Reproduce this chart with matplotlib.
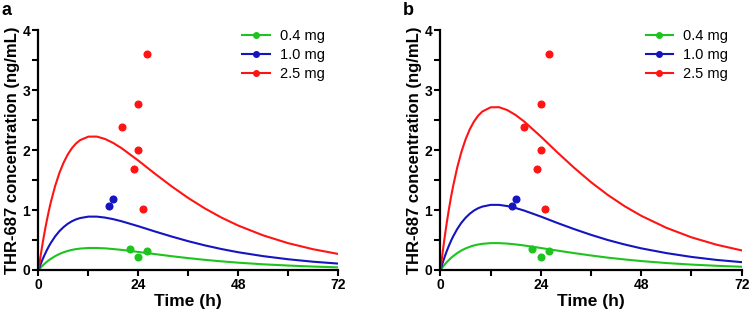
import matplotlib
matplotlib.use("Agg")
import matplotlib.pyplot as plt
from matplotlib.ticker import MultipleLocator

plt.rcParams['font.family'] = ['Liberation Sans', 'DejaVu Sans']

# model curves
time_h = [0, 0.5, 1, 1.5, 2, 2.5, 3, 4, 5, 6, 7, 8, 9, 10, 12, 14, 16, 18, 20, 24,
          28, 32, 36, 40, 44, 48, 54, 60, 66, 72]

red_a = [0, 0.234, 0.449, 0.646, 0.826, 0.991, 1.141, 1.401, 1.614, 1.786, 1.923, 2.029,
         2.109, 2.166, 2.224, 2.225, 2.185, 2.117, 2.030, 1.824, 1.605, 1.395, 1.200,
         1.026, 0.873, 0.741, 0.577, 0.447, 0.346, 0.268]
blue_a = [0, 0.094, 0.180, 0.258, 0.330, 0.396, 0.456, 0.560, 0.646, 0.714, 0.769, 0.812,
          0.844, 0.866, 0.890, 0.890, 0.874, 0.847, 0.812, 0.730, 0.642, 0.558, 0.480,
          0.410, 0.349, 0.296, 0.231, 0.179, 0.138, 0.107]
green_a = [0, 0.039, 0.074, 0.107, 0.136, 0.164, 0.188, 0.231, 0.266, 0.295, 0.317, 0.335,
           0.348, 0.357, 0.367, 0.367, 0.361, 0.349, 0.335, 0.301, 0.265, 0.230, 0.198,
           0.169, 0.144, 0.122, 0.095, 0.074, 0.057, 0.044]

red_b = [0, 0.285, 0.548, 0.788, 1.008, 1.209, 1.392, 1.709, 1.969, 2.179, 2.346, 2.475,
         2.573, 2.643, 2.713, 2.715, 2.666, 2.583, 2.477, 2.225, 1.958, 1.702, 1.464,
         1.252, 1.065, 0.904, 0.704, 0.545, 0.422, 0.327]
blue_b = [0, 0.115, 0.220, 0.315, 0.403, 0.483, 0.556, 0.683, 0.788, 0.871, 0.938, 0.991,
          1.030, 1.057, 1.086, 1.086, 1.066, 1.033, 0.991, 0.891, 0.783, 0.681, 0.586,
          0.500, 0.426, 0.361, 0.282, 0.218, 0.168, 0.131]
green_b = [0, 0.048, 0.090, 0.131, 0.166, 0.200, 0.229, 0.282, 0.325, 0.360, 0.387, 0.409,
           0.425, 0.436, 0.448, 0.448, 0.440, 0.426, 0.409, 0.367, 0.323, 0.281, 0.242,
           0.206, 0.176, 0.149, 0.116, 0.090, 0.070, 0.054]

# observed points (same in both panels)
obs_t_green = [22.0, 24.0, 26.0]
obs_c_green = [0.35, 0.22, 0.31]
obs_t_blue = [17.0, 18.0]
obs_c_blue = [1.07, 1.19]
obs_t_red = [20.0, 24.0, 24.0, 23.0, 25.0, 26.0]
obs_c_red = [2.38, 2.76, 2.00, 1.69, 1.02, 3.60]

doses = ["0.4 mg", "1.0 mg", "2.5 mg"]
colors = ["#1ec41e", "#1414c0", "#ff1414"]

fig = plt.figure(figsize=(7.49, 3.16), dpi=100)
ax_a = fig.add_axes([0.0514, 0.1456, 0.400, 0.759])
ax_b = fig.add_axes([0.5881, 0.1456, 0.402, 0.759])

panels = [
    (ax_a, "a", [green_a, blue_a, red_a]),
    (ax_b, "b", [green_b, blue_b, red_b]),
]
obs = [(obs_t_green, obs_c_green), (obs_t_blue, obs_c_blue), (obs_t_red, obs_c_red)]

for ax, letter, curves in panels:
    for curve, (ot, oc), col, lab in zip(curves, obs, colors, doses):
        ax.plot(time_h, curve, color=col, lw=1.5, zorder=2)
        ax.plot(ot, oc, 'o', color=col, ms=4.8, zorder=3)
        # legend proxy: line with a dot
        ax.plot([], [], '-o', color=col, lw=1.5, ms=4, label=lab)
    ax.set_xlim(0, 72)
    ax.set_ylim(0, 4)
    ax.xaxis.set_major_locator(MultipleLocator(24))
    ax.xaxis.set_minor_locator(MultipleLocator(12))
    ax.yaxis.set_major_locator(MultipleLocator(1))
    ax.yaxis.set_minor_locator(MultipleLocator(0.5))
    for s in ["top", "right"]:
        ax.spines[s].set_visible(False)
    for s in ["left", "bottom"]:
        ax.spines[s].set_linewidth(1.6)
    ax.tick_params(which="major", length=4, width=1.5, labelsize=10, pad=2)
    ax.tick_params(which="minor", length=4, width=1.5)
    for lbl in ax.get_xticklabels() + ax.get_yticklabels():
        lbl.set_fontweight("bold")
    ax.set_xlabel("Time (h)", fontsize=12.5, fontweight="bold", labelpad=1)
    ax.set_ylabel("THR-687 concentration (ng/mL)", fontsize=12, fontweight="bold", labelpad=2)
    ax.text(-0.125, 1.045, letter, transform=ax.transAxes, fontsize=13, fontweight="bold",
            ha="left", va="bottom")
    ax.legend(loc="upper right", bbox_to_anchor=(1.0, 1.06), frameon=False, fontsize=10.5,
              handlelength=1.9, handletextpad=0.7, labelspacing=0.35)

fig.savefig("out.png", dpi=100)
